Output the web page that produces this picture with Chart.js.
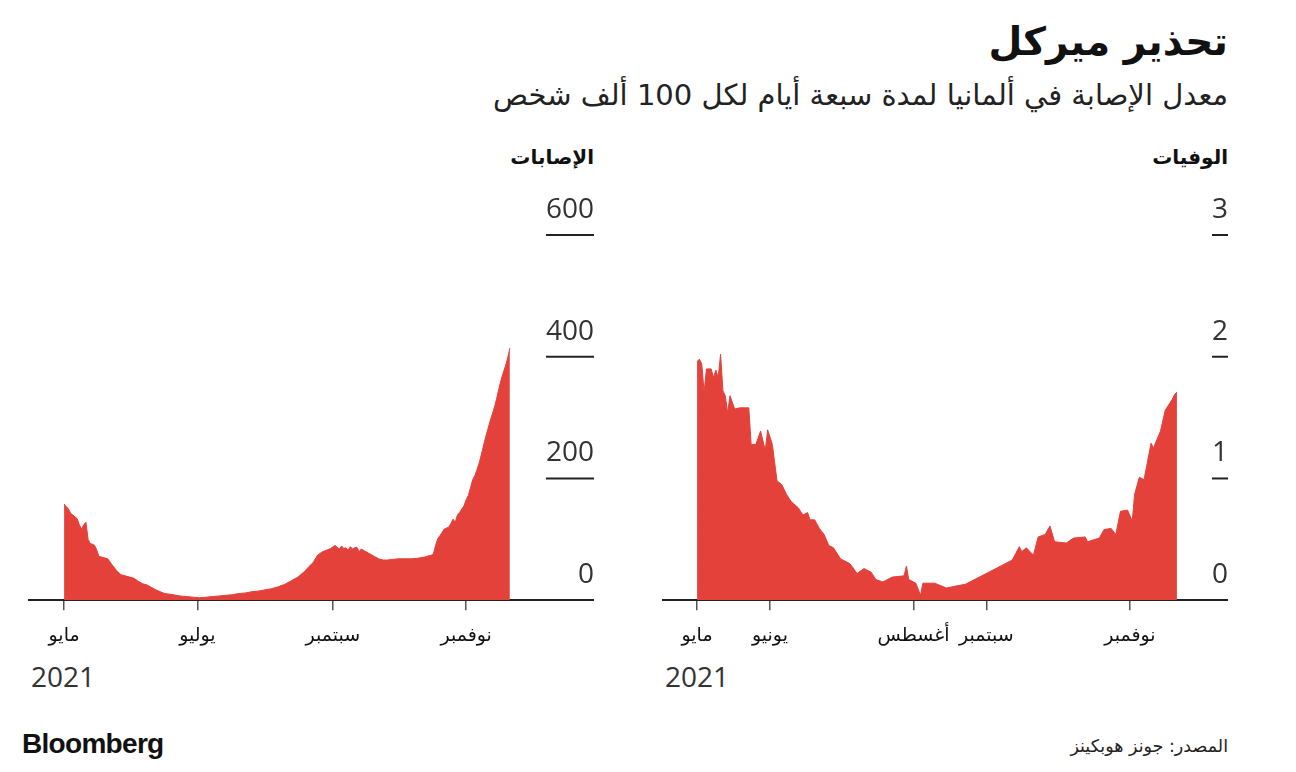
<!DOCTYPE html>
<html lang="ar">
<head>
<meta charset="utf-8">
<script src="https://cdn.jsdelivr.net/npm/chart.js@4"></script>
<style>
  body { margin: 0; width: 1296px; height: 772px; background: #fff; position: relative; overflow: hidden; font-family: "DejaVu Sans", sans-serif; }
  .txt { position: absolute; white-space: nowrap; color: #111; }
  .rtl { direction: rtl; text-align: right; }
  canvas { position: absolute; }
</style>
</head>
<body>
<div class="txt rtl" style="right:68px; top:19px; font-size:39px; font-weight:bold;">تحذير ميركل</div>
<div class="txt rtl" style="right:68px; top:78px; font-size:29px; color:#222;">معدل الإصابة في ألمانيا لمدة سبعة أيام لكل 100 ألف شخص</div>
<div class="txt rtl" style="right:702px; top:145px; font-size:20px; font-weight:bold;">الإصابات</div>
<div class="txt rtl" style="right:68px; top:145px; font-size:20px; font-weight:bold;">الوفيات</div>
<div class="txt" style="left:31px; top:657px; font-size:28px; color:#333; font-family:'Open Sans';">2021</div>
<div class="txt" style="left:665px; top:657px; font-size:28px; color:#333; font-family:'Open Sans';">2021</div>
<div class="txt" style="left:22px; top:728px; font-size:28px; font-weight:bold; font-family:'Liberation Sans'; letter-spacing:-0.7px;">Bloomberg</div>
<div class="txt rtl" style="right:68px; top:736px; font-size:17.5px; color:#222;">المصدر: جونز هوبكينز</div>

<canvas id="casesChart" width="566" height="500" style="left:28px; top:170px;"></canvas>
<canvas id="deathsChart" width="566" height="500" style="left:662px; top:170px;"></canvas>

<script>
// ---------- data (day 0 = 1 May 2021) ----------
const casesDays = [0,1,2,3,4,5,6,7,8,9,10,11,12,13,14,15,16,17,18,20,22,24,26,28,30,32,34,36,38,40,42,44,46,48,50,53,56,59,62,65,68,71,74,77,80,83,86,89,92,95,98,101,104,107,110,112,114,116,118,120,122,124,125,126,127,128,129,130,131,132,133,134,135,136,138,140,142,144,146,148,150,153,156,159,162,165,168,169,170,171,172,174,176,177,178,179,180,181,182,183,184,185,186,187,188,189,190,191,192,193,194,195,196,197,198,199,200,201,202,203,204];
const casesValues = [158,154,150,143,140,137,134,124,117,124,128,100,93,92,90,82,72,71,70,68,58,49,42,40,38,36,31,27,25,21,17,14,11,10,9,7,6,5,4,5,6,7,8,9,11,12,14,15,17,19,22,26,32,38,47,55,62,74,79,82,85,90,87,84,89,85,86,82,88,84,86,87,80,84,80,76,72,68,66,66,67,68,68,68,69,71,74,76,90,101,106,117,120,126,133,128,140,144,150,155,165,172,185,198,205,215,226,240,255,269,282,295,306,318,332,348,362,374,385,398,414];

const deathsDays = [0,1,2,3,4,6,7,8,9,10,11,12,13,14,16,18,22,23,25,27,29,30,32,34,36,38,40,43,45,47,48,50,52,54,56,58,61,65,68,71,74,76,79,83,88,89,90,93,95,96,101,106,111,114,119,124,127,130,134,137,138,140,143,145,148,150,152,157,160,165,166,171,173,176,178,180,183,185,186,188,190,193,194,197,199,202,203,204];
const deathsValues = [1.96,1.98,1.94,1.71,1.90,1.90,1.83,1.89,1.83,2.02,1.72,1.68,1.54,1.68,1.57,1.58,1.58,1.28,1.28,1.39,1.23,1.40,1.28,0.98,0.95,0.87,0.81,0.76,0.70,0.72,0.66,0.66,0.59,0.54,0.45,0.43,0.34,0.30,0.22,0.26,0.23,0.17,0.15,0.19,0.20,0.28,0.17,0.14,0.04,0.14,0.14,0.10,0.12,0.13,0.18,0.23,0.26,0.29,0.33,0.44,0.40,0.43,0.37,0.52,0.54,0.61,0.48,0.47,0.51,0.52,0.48,0.51,0.58,0.59,0.54,0.73,0.74,0.65,0.87,1.01,0.99,1.29,1.25,1.39,1.56,1.65,1.69,1.71];

const casesTicks = [0, 200, 400, 600];
const deathsTicks = [0, 1, 2, 3];

const casesMonthDays = [0, 61, 123, 184];
const casesMonthNames = ["مايو", "يوليو", "سبتمبر", "نوفمبر"];
const deathsMonthDays = [0, 31, 92, 123, 184];
const deathsMonthNames = ["مايو", "يونيو", "أغسطس", "سبتمبر", "نوفمبر"];

const RED = "#e4413b";

// y labels sit above a short underline, right-aligned to the chart edge
const yLabelPlugin = {
  id: "yLabels",
  afterDraw(chart, args, opts) {
    const ctx = chart.ctx;
    const y = chart.scales.y;
    const right = chart.chartArea.right;
    ctx.save();
    ctx.font = '28px "Open Sans"';
    ctx.fillStyle = "#333";
    ctx.textAlign = "right";
    ctx.textBaseline = "alphabetic";
    opts.values.forEach(v => {
      const py = y.getPixelForValue(v);
      const label = String(v);
      const w = ctx.measureText(label).width;
      ctx.fillText(label, right, py - 17);
      if (v !== 0) {
        ctx.strokeStyle = "#222";
        ctx.lineWidth = 2;
        ctx.beginPath();
        ctx.moveTo(right - w, py);
        ctx.lineTo(right, py);
        ctx.stroke();
      }
    });
    ctx.restore();
  }
};

function makeChart(id, days, values, yMax, yTicks, xMin, xMax, monthDays, monthNames) {
  return new Chart(document.getElementById(id), {
    type: "line",
    data: {
      datasets: [{
        data: days.map((d, i) => ({ x: d, y: values[i] })),
        fill: "origin",
        backgroundColor: RED,
        borderColor: RED,
        borderWidth: 1,
        pointRadius: 0,
        tension: 0
      }]
    },
    options: {
      responsive: false,
      animation: false,
      devicePixelRatio: 1,
      layout: { padding: { top: 65, bottom: 9, left: 0, right: 0 } },
      plugins: {
        legend: { display: false },
        tooltip: { enabled: false },
        yLabels: { values: yTicks }
      },
      scales: {
        x: {
          type: "linear",
          min: xMin,
          max: xMax,
          afterBuildTicks: axis => { axis.ticks = monthDays.map(v => ({ value: v })); },
          ticks: {
            autoSkip: false,
            maxRotation: 0,
            padding: 14,
            color: "#111",
            font: { family: "DejaVu Sans", size: 19 },
            callback: v => monthNames[monthDays.indexOf(v)]
          },
          grid: { drawOnChartArea: false, drawTicks: true, tickLength: 10, color: "#555", lineWidth: 1.5 },
          border: { display: true, color: "#222", width: 2 }
        },
        y: { display: false, min: 0, max: yMax }
      }
    },
    plugins: [yLabelPlugin]
  });
}

const casesChart = makeChart("casesChart", casesDays, casesValues, 600, casesTicks, -16.5, 242.5, casesMonthDays, casesMonthNames);
const deathsChart = makeChart("deathsChart", deathsDays, deathsValues, 3, deathsTicks, -14.9, 225.7, deathsMonthDays, deathsMonthNames);
console.log("area", JSON.stringify(casesChart.chartArea), JSON.stringify(deathsChart.chartArea));
</script>
</body>
</html>
